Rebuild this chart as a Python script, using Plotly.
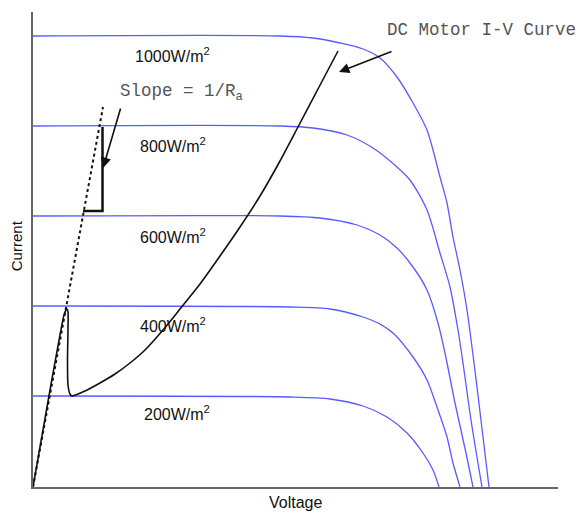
import plotly.graph_objects as go

# Irradiance levels and their I-V curves (arbitrary units: V, I)
levels = ["1000W/m<sup>2</sup>", "800W/m<sup>2</sup>", "600W/m<sup>2</sup>", "400W/m<sup>2</sup>", "200W/m<sup>2</sup>"]

v_1000 = [0, 247, 280, 307, 330, 347, 364, 380, 394, 407, 414, 420, 427, 434, 444, 456]
i_1000 = [451, 451, 449, 444, 438, 429, 410, 384, 357, 310, 284, 250, 217, 177, 100, 0]

v_800 = [0, 247, 280, 314, 340, 364, 377, 394, 407, 417, 425, 430, 438, 449]
i_800 = [361, 361, 359, 352, 339, 320, 307, 277, 234, 200, 157, 124, 67, 0]

v_600 = [0, 247, 287, 324, 347, 364, 380, 394, 405, 412, 422, 433, 440]
i_600 = [271, 271, 269, 262, 252, 239, 220, 197, 164, 134, 84, 34, 0]

v_400 = [0, 257, 297, 330, 345, 360, 380, 394, 404, 414, 420, 427]
i_400 = [181, 180, 178, 170, 164, 154, 130, 107, 80, 50, 24, 0]

v_200 = [0, 257, 297, 330, 354, 374, 390, 400, 406]
i_200 = [91, 90, 88, 81, 70, 54, 34, 17, 0]

# DC motor I-V curve
v_motor = [0, 17, 27, 31, 33, 34, 35, 35, 34.5, 35, 37, 39, 52, 67, 82, 97, 112, 130, 147, 167, 187, 207, 227, 247, 265, 285, 305]
i_motor = [0, 97, 152, 172, 177, 178, 175, 157, 127, 102, 93, 91, 96, 104, 113, 124, 137, 157, 178, 203, 231, 260, 291, 326, 360, 398, 436]

# Armature-resistance line (slope = 1/Ra)
v_ra = [0, 70]
i_ra = [0, 380]

# slope triangle
v_tri = [69.5, 69.5, 50]
i_tri = [360, 276, 276]

label_v = [100, 105, 105, 105, 109]
label_i = [432, 342, 251, 162, 74]

blue = "#5a5aff"
fig = go.Figure()
for vx, iy in [(v_1000, i_1000), (v_800, i_800), (v_600, i_600), (v_400, i_400), (v_200, i_200)]:
    fig.add_trace(go.Scatter(x=vx, y=iy, mode="lines", line=dict(color=blue, width=1.3, shape="spline", smoothing=0.8),
                             hoverinfo="skip", showlegend=False))

fig.add_trace(go.Scatter(x=v_motor, y=i_motor, mode="lines",
                         line=dict(color="#111111", width=1.6, shape="spline", smoothing=0.6),
                         hoverinfo="skip", showlegend=False))
fig.add_trace(go.Scatter(x=v_ra, y=i_ra, mode="lines", line=dict(color="#111111", width=2, dash="dot"),
                         hoverinfo="skip", showlegend=False))
fig.add_trace(go.Scatter(x=v_tri, y=i_tri, mode="lines", line=dict(color="#111111", width=2.5),
                         hoverinfo="skip", showlegend=False))

for lab, lx, ly in zip(levels, label_v, label_i):
    fig.add_annotation(x=lx, y=ly, text=lab, showarrow=False, xanchor="left", yanchor="middle",
                       font=dict(family="Liberation Sans, Arial", size=16, color="#111111"))

mono = "Courier New, Liberation Mono, monospace"
fig.add_annotation(x=85, y=395, text="Slope = 1/R<sub>a</sub>", showarrow=False, xanchor="left", yanchor="middle",
                   font=dict(family=mono, size=17.5, color="#555555"))
fig.add_annotation(x=70, y=319, ax=88, ay=380, axref="x", ayref="y", text="", showarrow=True,
                   arrowhead=2, arrowsize=1.3, arrowwidth=1.6, arrowcolor="#111111")

fig.add_annotation(x=352, y=457, text="DC Motor I-V Curve", showarrow=False, xanchor="left", yanchor="middle",
                   font=dict(family=mono, size=17.5, color="#555555"))
fig.add_annotation(x=306, y=415, ax=360, ay=436, axref="x", ayref="y", text="", showarrow=True,
                   arrowhead=2, arrowsize=1.3, arrowwidth=1.6, arrowcolor="#111111")

fig.add_annotation(x=0.5, y=-0.0316, xref="paper", yref="paper", text="Voltage", showarrow=False,
                   xanchor="center", yanchor="middle", font=dict(family="Liberation Sans, Arial", size=16, color="#111111"))
fig.add_annotation(x=-0.0324, y=0.509, xref="paper", yref="paper", text="Current", showarrow=False, textangle=-90,
                   xanchor="center", yanchor="middle", font=dict(family="Liberation Sans, Arial", size=15, color="#111111"))

fig.update_xaxes(range=[0, 525], showgrid=False, zeroline=False, showticklabels=False, ticks="",
                 showline=True, linecolor="#666666", linewidth=2)
fig.update_yaxes(range=[0, 475], showgrid=False, zeroline=False, showticklabels=False, ticks="",
                 showline=True, linecolor="#666666", linewidth=2)
# page body has an 8px margin, so the figure is sized to fit the 585x514 window
fig.update_layout(width=577, height=506, margin=dict(l=25, r=27, t=4, b=27),
                  plot_bgcolor="white", paper_bgcolor="white")

fig.write_html("out.html")
